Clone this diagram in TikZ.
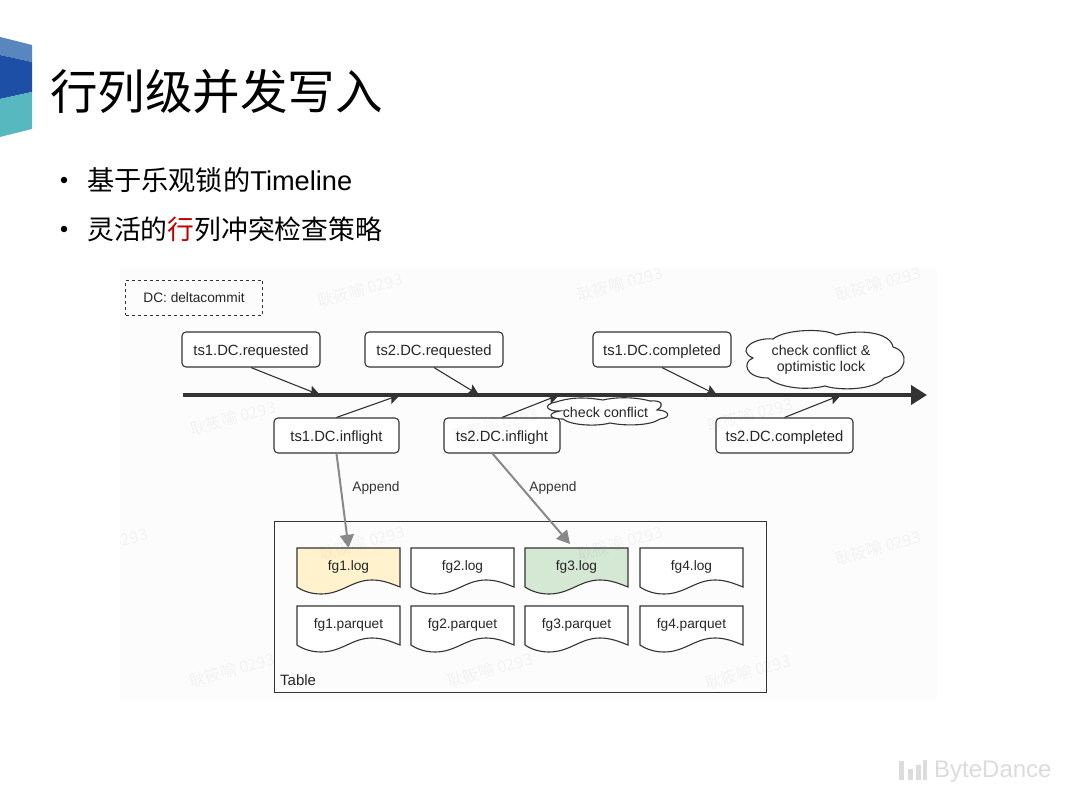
\documentclass[tikz,border=0pt]{standalone}
\usepackage{fontspec}
\setmainfont{Liberation Sans}
\newfontfamily\cjk{Noto Sans CJK SC}
\usetikzlibrary{arrows.meta}
\definecolor{band_light}{HTML}{5A86C0}
\definecolor{band_dark}{HTML}{1C4FA5}
\definecolor{band_teal}{HTML}{58B8C0}
\definecolor{line_dark}{HTML}{333333}
\definecolor{line_gray}{HTML}{888888}
\definecolor{log_yellow}{HTML}{FFF2CC}
\definecolor{log_green}{HTML}{D5E8D4}
\definecolor{logo_gray}{HTML}{DCDCDC}
\definecolor{red_word}{HTML}{C00000}
\begin{document}
\begin{tikzpicture}[
    x=1pt, y=-1pt,
    % Styles
    commit_box/.style={draw=line_dark, line width=1.1pt, rounded corners=4pt, fill=white, text=black!85, font=\fontsize{14.8}{16}\selectfont, minimum height=35pt, inner sep=0pt, text height=12pt, text depth=0pt},
    note_box/.style={draw=line_dark, line width=1pt, dashed, text=black!85, font=\fontsize{13.7}{16}\selectfont, minimum width=137pt, minimum height=35pt, inner sep=0pt},
    cloud_line/.style={draw=line_dark, line width=1.1pt, fill=white},
    cloud_text/.style={align=center, inner sep=0pt, text=black!85, font=\fontsize{14.2}{16}\selectfont},
    doc_line/.style={draw=line_dark, line width=1.1pt},
    doc_text/.style={minimum width=103pt, minimum height=34pt, inner sep=0pt, text=black!85, text height=10pt, text depth=0pt, font=\fontsize{13.7}{16}\selectfont},
    commit_arrow/.style={-{Stealth[length=11pt,width=11pt,inset=2pt]}, line_dark, line width=1.1pt},
    append_arrow/.style={-{Triangle[length=13pt,width=14pt]}, line_gray, line width=2pt},
    append_text/.style={font=\fontsize{13.7}{16}\selectfont, text=black!80, inner sep=0pt},
    mark_text/.style={font=\cjk\fontsize{16}{18}\selectfont, text=black, opacity=0.04, rotate=15}
]

    \useasboundingbox (0,0) rectangle (1080,810);
    \fill[white] (0,0) rectangle (1080,810);

    % ==========================================
    % 1. SLIDE HEADER
    % ==========================================
    \fill[band_light] (0,37) -- (32,45) -- (32,62) -- (0,55) -- cycle;
    \fill[band_dark] (0,55) -- (32,62) -- (32,92) -- (0,99) -- cycle;
    \fill[band_teal] (0,99) -- (32,92) -- (32,129) -- (0,137) -- cycle;

    \node[anchor=west, inner sep=0pt, font=\cjk\fontsize{47.5}{50}\selectfont] (title) at (50,92) {行列级并发写入};

    \node[circle, fill=black, inner sep=0pt, minimum size=6.5pt] (dot1) at (64,180) {};
    \node[circle, fill=black, inner sep=0pt, minimum size=6.5pt] (dot2) at (64,229) {};
    \node[anchor=west, inner sep=0pt, font=\fontsize{27.2}{30}\selectfont] (line1) at (87,180) {{\cjk 基于乐观锁的}Timeline};
    \node[anchor=west, inner sep=0pt, font=\cjk\fontsize{26.8}{30}\selectfont] (line2) at (87,229) {灵活的\textcolor{red_word}{行}列冲突检查策略};

    % ==========================================
    % 2. DIAGRAM BACKGROUND
    % ==========================================
    \fill[black!1] (120,268) rectangle (937,700);

    % ==========================================
    % 3. TIMELINE
    % ==========================================
    \coordinate (timeline_start) at (183,395);
    \coordinate (timeline_end) at (927,395);
    \draw[-{Triangle[length=16pt,width=19pt]}, line_dark, line width=4pt] (timeline_start) -- (timeline_end);

    % Points on the timeline
    \coordinate (t1) at (320,395);
    \coordinate (t2) at (400,395);
    \coordinate (t3) at (479,395);
    \coordinate (t4) at (559,395);
    \coordinate (t5) at (717,395);
    \coordinate (t6) at (841,395);

    % ==========================================
    % 4. COMMIT BOXES
    % ==========================================
    \node[note_box] (legend) at (194,298) {DC: deltacommit};

    \node[commit_box, minimum width=138pt] (ts1_requested) at (251,349.5) {ts1.DC.requested};
    \node[commit_box, minimum width=138pt] (ts2_requested) at (434,349.5) {ts2.DC.requested};
    \node[commit_box, minimum width=138pt] (ts1_completed) at (662,349.5) {ts1.DC.completed};
    \node[commit_box, minimum width=125pt] (ts1_inflight) at (336.5,435.5) {ts1.DC.inflight};
    \node[commit_box, minimum width=116pt] (ts2_inflight) at (502,435.5) {ts2.DC.inflight};
    \node[commit_box, minimum width=137pt] (ts2_completed) at (784.5,435.5) {ts2.DC.completed};

    \draw[commit_arrow] (ts1_requested.south) -- (t1);
    \draw[commit_arrow] (ts2_requested.south) -- (t3);
    \draw[commit_arrow] (ts1_completed.south) -- (t5);
    \draw[commit_arrow] (ts1_inflight.north) -- (t2);
    \draw[commit_arrow] (ts2_inflight.north) -- (t4);
    \draw[commit_arrow] (ts2_completed.north) -- (t6);

    % Clouds stay on top of the timeline arrows
    \filldraw[cloud_line] (560,411) .. controls (548,412) and (541,405) .. (556,402)
        .. controls (575,396) and (590,398) .. (603,400)
        .. controls (620,396) and (640,398) .. (650,401)
        .. controls (662,400) and (665,405) .. (657,410)
        .. controls (668,410) and (673,417) .. (660,419)
        .. controls (650,426) and (625,426) .. (610,423)
        .. controls (595,427) and (570,425) .. (563,419)
        .. controls (548,419) and (547,413) .. (560,411) -- cycle;
    \node[cloud_text] (cloud_small) at (605.5,412) {check conflict};

    \filldraw[cloud_line] (753,358) .. controls (735,350) and (755,337) .. (773,339)
        .. controls (785,329) and (825,328) .. (836,335)
        .. controls (860,329) and (890,332) .. (893,347)
        .. controls (910,352) and (908,372) .. (884,378)
        .. controls (875,390) and (840,391) .. (825,386)
        .. controls (800,392) and (775,385) .. (768,378)
        .. controls (745,378) and (742,362) .. (753,358) -- cycle;
    \node[cloud_text] (cloud_big) at (821,360) {check conflict \&\\optimistic lock};

    % ==========================================
    % 5. TABLE
    % ==========================================
    \node[draw=line_dark, line width=1pt, minimum width=492pt, minimum height=171pt, inner sep=0pt] (table) at (520,606.5) {};
    \node[anchor=west, inner sep=0pt, text=black!85, font=\fontsize{15}{18}\selectfont] (table_label) at (280,680) {Table};

    \foreach \i/\x/\c in {1/297/log_yellow, 2/411/white, 3/525/log_green, 4/640/white} {
        \foreach \t/\y/\f/\w in {log/548/\c/log, parquet/606/white/parquet} {
            \filldraw[doc_line, fill=\f] (\x,\y) -- (\x+103,\y) -- (\x+103,\y+39)
                .. controls (\x+93,\y+35) and (\x+85,\y+32) .. (\x+75,\y+32)
                .. controls (\x+55,\y+32) and (\x+45,\y+46) .. (\x+24,\y+46)
                .. controls (\x+14,\y+46) and (\x+6,\y+43) .. (\x,\y+39) -- cycle;
            \node[doc_text] (fg\i\t) at (\x+51.5,\y+17) {fg\i.\w};
        }
    }

    % ==========================================
    % 6. APPEND ARROWS
    % ==========================================
    \coordinate (ts2_foot) at (492,453);
    \coordinate (fg3_top) at (570,544);
    \draw[append_arrow] (ts1_inflight.south) -- (fg1log.north);
    \draw[append_arrow] (ts2_foot) -- (fg3_top);
    \node[append_text] (append1) at (376,487.5) {Append};
    \node[append_text] (append2) at (553,487.5) {Append};

    % ==========================================
    % 7. WATERMARKS (drawn last, they show through)
    % ==========================================
    \begin{scope}
        \clip (120,268) rectangle (937,700);
        \foreach \x/\y [count=\i] in {360/290, 620/284, 878/284, 233/418, 495/425, 750/415, 105/545, 362/543, 620/543, 878/548, 232/670, 490/670, 748/672} {
            \node[mark_text] (mark\i) at (\x,\y) {耿筱喻 0293};
        }
    \end{scope}

    % ==========================================
    % 8. BRAND MARK
    % ==========================================
    \fill[logo_gray] (899,761) rectangle (903.5,780);
    \fill[logo_gray] (908,769) rectangle (912.5,780);
    \fill[logo_gray] (916,765) rectangle (920.5,780);
    \fill[logo_gray] (922.5,760) rectangle (927,780);
    \node[anchor=west, inner sep=0pt, text=logo_gray, font=\fontsize{24}{26}\selectfont] (brand) at (934,772) {ByteDance};

\end{tikzpicture}
\end{document}
